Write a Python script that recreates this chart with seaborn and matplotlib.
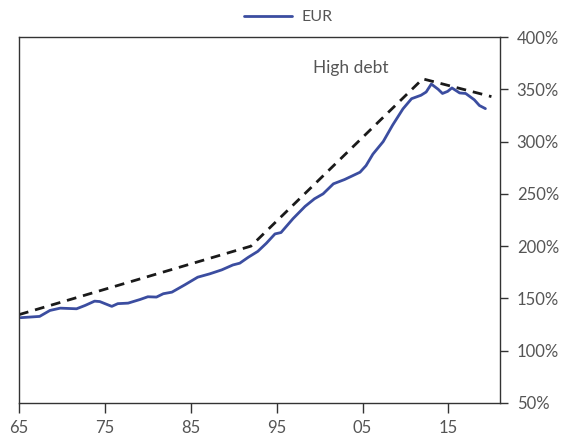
import pandas as pd
import numpy as np
import seaborn as sns
import matplotlib.pyplot as plt
from matplotlib.ticker import FuncFormatter

# Deuda total EUR (% del PIB)
years = [1965.2, 1967.4, 1968.6, 1969.8, 1971.7, 1972.7, 1973.8, 1974.4, 1975.8, 1976.5,
         1977.7, 1979.1, 1980.0, 1981.0, 1981.8, 1982.8, 1984.3, 1985.8, 1987.2, 1988.6,
         1989.9, 1990.7, 1991.7, 1992.8, 1993.8, 1994.8, 1995.5, 1996.9, 1998.3, 1999.4,
         2000.4, 2001.6, 2002.9, 2003.7, 2004.7, 2005.4, 2006.2, 2007.4, 2008.5, 2009.7,
         2010.7, 2011.8, 2012.4, 2013.0, 2013.8, 2014.3, 2014.9, 2015.4, 2016.3, 2017.0,
         2018.0, 2018.6, 2019.3]
eur = [131.6, 132.8, 138.5, 140.7, 140.1, 143.3, 147.4, 147.0, 142.4, 145.0,
       145.5, 149.0, 151.6, 151.3, 154.5, 156.0, 163.0, 170.3, 173.5, 177.3,
       182.0, 183.7, 189.4, 195.0, 202.8, 211.7, 213.0, 226.3, 238.0, 245.3,
       250.0, 259.6, 263.7, 266.8, 270.7, 277.0, 288.0, 300.0, 315.8, 331.3,
       341.0, 344.3, 347.4, 355.0, 350.0, 346.0, 348.0, 351.3, 346.5, 346.0,
       340.0, 334.5, 331.5]

# Tendencia "High debt" (línea discontinua)
trend_years = [1965, 1992, 2012, 2020]
trend_vals = [134.5, 200, 360, 343]

df = pd.DataFrame({'year': years, 'debt': eur})
df_trend = pd.DataFrame({'year': trend_years, 'debt': trend_vals})

x_ticks = [1965, 1975, 1985, 1995, 2005, 2015]
x_labels = ['65', '75', '85', '95', '05', '15']
y_ticks = [50, 100, 150, 200, 250, 300, 350, 400]

sns.set_theme(style="white")
plt.rcParams['font.family'] = ['Lato', 'DejaVu Sans']

fig = plt.figure(figsize=(5.71, 4.40), dpi=100)
ax = fig.add_axes([0.0333, 0.0841, 0.8424, 0.8318])

sns.lineplot(x='year', y='debt', data=df, ax=ax, color='#3B4DA0', linewidth=2, label='EUR')
sns.lineplot(x='year', y='debt', data=df_trend, ax=ax, color='#1a1a1a', linewidth=2,
             linestyle=(0, (3.5, 2.5)), legend=False)

ax.set_xlim(1965, 2021)
ax.set_ylim(50, 400)
ax.set_xticks(x_ticks)
ax.set_xticklabels(x_labels)
ax.set_yticks(y_ticks)
ax.yaxis.set_major_formatter(FuncFormatter(lambda v, p: f'{v:.0f}%'))
ax.yaxis.tick_right()
ax.set_xlabel('')
ax.set_ylabel('')

for s in ax.spines.values():
    s.set_color('#333333')
    s.set_linewidth(1)

text_col = '#555555'
ax.tick_params(axis='x', direction='out', length=7, width=1, color='#333333',
               labelsize=12, labelcolor=text_col, pad=5, bottom=True)
ax.tick_params(axis='y', direction='out', length=6, width=1, color='#333333',
               labelsize=12, labelcolor=text_col, pad=6, right=True, left=False)

ax.text(1999.2, 370, 'High debt', fontsize=12.5, color=text_col,
        va='center', ha='left')

ax.get_legend().remove()
handles, labels = ax.get_legend_handles_labels()
leg = fig.legend(handles[:1], labels[:1], loc='upper center', bbox_to_anchor=(0.505, 1.01),
                 frameon=False, fontsize=11.5, handlelength=3, handletextpad=0.6)
for t in leg.get_texts():
    t.set_color(text_col)

fig.savefig('out.png', dpi=100)
